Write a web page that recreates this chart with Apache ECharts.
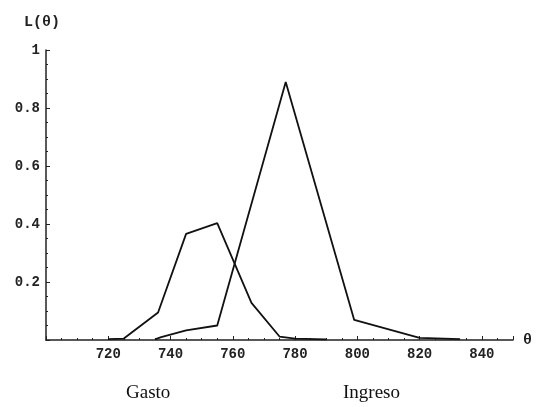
<!DOCTYPE html>
<html>
<head>
<meta charset="utf-8">
<style>
  html, body { margin: 0; padding: 0; background: #fff; }
  #chart { width: 536px; height: 407px; }
</style>
<script src="https://cdn.jsdelivr.net/npm/echarts@6/dist/echarts.min.js"></script>
</head>
<body>
<div id="chart"></div>
<script>
// values
var gastoTheta = [720, 725, 736, 745, 755, 766, 775, 780, 790];
var gastoL = [0.003, 0.005, 0.095, 0.366, 0.403, 0.128, 0.012, 0.005, 0.002];
var ingresoTheta = [735, 737, 745, 755, 777, 799, 820, 833];
var ingresoL = [0.002, 0.01, 0.033, 0.05, 0.89, 0.069, 0.007, 0.003];
var captions = ["Gasto", "Ingreso"];

var tickFont = "Liberation Mono";

function pairs(xs, ys) {
  return xs.map(function(x, i) {
    return [x, ys[i]];
  });
}

var chart = echarts.init(document.getElementById("chart"));

var lineStyle = { color: "#111", width: 1.8 };

var option = {
  animation: false,
  backgroundColor: "#fff",
  grid: { left: 46, right: 23, top: 50, bottom: 67 },
  xAxis: {
    type: "value",
    min: 700,
    max: 850,
    interval: 20,
    name: "θ",
    nameLocation: "end",
    nameGap: 10,
    nameTextStyle: { color: "#222", fontSize: 15, fontFamily: tickFont, fontWeight: "bold", verticalAlign: "middle" },
    axisLine: { lineStyle: { color: "#222", width: 1.5 } },
    axisTick: { inside: true, length: 4, lineStyle: { color: "#222" } },
    minorTick: { show: true, splitNumber: 4, length: 2, lineStyle: { color: "#222" } },
    splitLine: { show: false },
    axisLabel: {
      showMinLabel: false,
      showMaxLabel: false,
      margin: 7,
      color: "#222",
      fontFamily: tickFont,
      fontWeight: "bold",
      fontSize: 14
    }
  },
  yAxis: {
    type: "value",
    min: 0,
    max: 1,
    interval: 0.2,
    name: "L(θ)",
    nameLocation: "end",
    nameGap: 20,
    nameTextStyle: { color: "#222", fontSize: 15, fontFamily: tickFont, fontWeight: "bold", padding: [0, 8, 0, 0] },
    axisLine: { lineStyle: { color: "#222", width: 1.5 } },
    axisTick: { inside: true, length: 4, lineStyle: { color: "#222" } },
    minorTick: { show: true, splitNumber: 4, length: 2, lineStyle: { color: "#222" } },
    splitLine: { show: false },
    axisLabel: {
      showMinLabel: false,
      margin: 6,
      color: "#222",
      fontFamily: tickFont,
      fontWeight: "bold",
      fontSize: 14,
      formatter: function(v) {
        return v === 1 ? "1" : v.toFixed(1);
      }
    }
  },
  graphic: [
    {
      type: "text",
      left: 126,
      top: 384,
      style: { text: captions[0], fill: "#111", font: "19px 'Liberation Serif'" }
    },
    {
      type: "text",
      left: 343,
      top: 384,
      style: { text: captions[1], fill: "#111", font: "19px 'Liberation Serif'" }
    }
  ],
  series: [
    {
      name: captions[0],
      type: "line",
      showSymbol: false,
      lineStyle: lineStyle,
      data: pairs(gastoTheta, gastoL)
    },
    {
      name: captions[1],
      type: "line",
      showSymbol: false,
      lineStyle: lineStyle,
      data: pairs(ingresoTheta, ingresoL)
    }
  ]
};

chart.setOption(option);
</script>
</body>
</html>
